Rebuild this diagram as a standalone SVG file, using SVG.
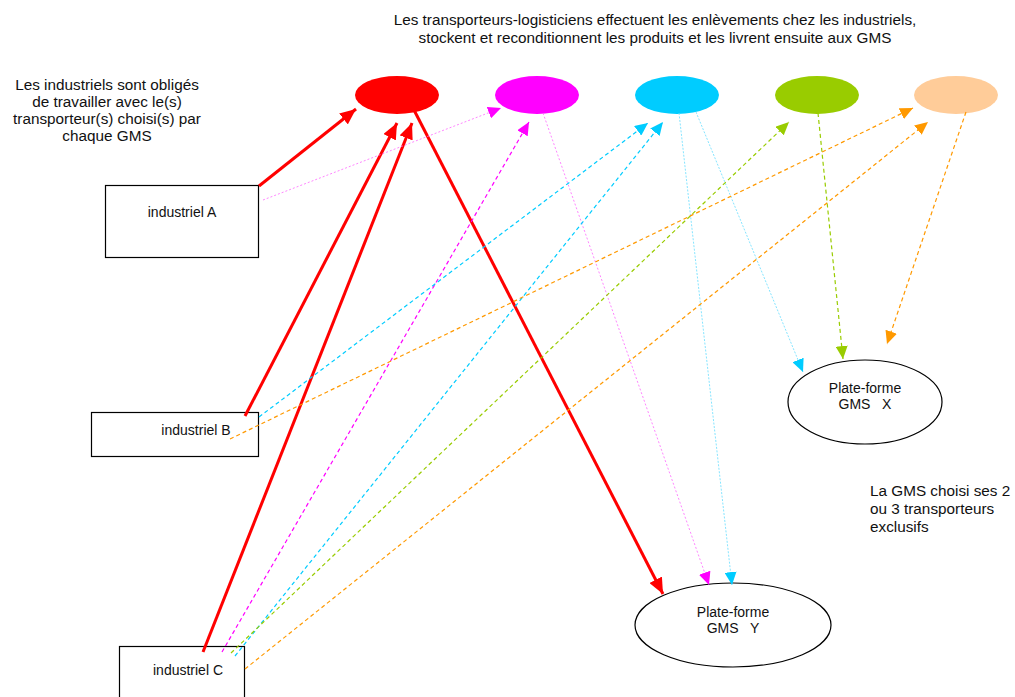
<svg xmlns="http://www.w3.org/2000/svg" width="1015" height="697" viewBox="0 0 1015 697">
  <style>
    text { font-family: "Liberation Sans", Arial, sans-serif; fill: #111; }
    .cap { font-size: 15.3px; }
    .lbl { font-size: 14px; }
    .box { fill: #fff; stroke: #000; stroke-width: 1.2; }
    .plat { fill: #fff; stroke: #000; stroke-width: 1.2; }
    .red { stroke: #ff0000; stroke-width: 3; fill: none; }
    .mag { stroke: #ff00ff; stroke-width: 1.2; fill: none; stroke-dasharray: 4 3; }
    .magdot { stroke: #ff66ff; stroke-width: 0.8; fill: none; stroke-dasharray: 2 2; }
    .cya { stroke: #00ccff; stroke-width: 1.2; fill: none; stroke-dasharray: 4 3; }
    .cyadot { stroke: #66ddff; stroke-width: 0.8; fill: none; stroke-dasharray: 2 1.5; }
    .grn { stroke: #99cc00; stroke-width: 1.2; fill: none; stroke-dasharray: 4 3; }
    .org { stroke: #ff9900; stroke-width: 1.2; fill: none; stroke-dasharray: 4 3; }
  </style>
  <defs>
    <marker id="ahRed" markerUnits="userSpaceOnUse" markerWidth="16" markerHeight="14" refX="16" refY="7" orient="auto">
      <path d="M0,0 L16,7 L0,14 z" fill="#ff0000"/>
    </marker>
    <marker id="ahMag" markerUnits="userSpaceOnUse" markerWidth="13" markerHeight="12" refX="13" refY="6" orient="auto">
      <path d="M0,0 L13,6 L0,12 z" fill="#ff00ff"/>
    </marker>
    <marker id="ahCya" markerUnits="userSpaceOnUse" markerWidth="13" markerHeight="12" refX="13" refY="6" orient="auto">
      <path d="M0,0 L13,6 L0,12 z" fill="#00ccff"/>
    </marker>
    <marker id="ahGrn" markerUnits="userSpaceOnUse" markerWidth="13" markerHeight="12" refX="13" refY="6" orient="auto">
      <path d="M0,0 L13,6 L0,12 z" fill="#99cc00"/>
    </marker>
    <marker id="ahOrg" markerUnits="userSpaceOnUse" markerWidth="13" markerHeight="12" refX="13" refY="6" orient="auto">
      <path d="M0,0 L13,6 L0,12 z" fill="#ff9900"/>
    </marker>
  </defs>

  <rect width="1015" height="697" fill="#fff"/>

  <!-- captions -->
  <g id="caption-top">
    <text class="cap" x="655" y="25" text-anchor="middle">Les transporteurs-logisticiens effectuent les enlèvements chez les industriels,</text>
    <text class="cap" x="655" y="43" text-anchor="middle">stockent et reconditionnent les produits et les livrent ensuite aux GMS</text>
  </g>
  <g id="caption-left">
    <text class="cap" x="107" y="90" text-anchor="middle">Les industriels sont obligés</text>
    <text class="cap" x="107" y="107" text-anchor="middle">de travailler avec le(s)</text>
    <text class="cap" x="107" y="124" text-anchor="middle">transporteur(s) choisi(s) par</text>
    <text class="cap" x="107" y="141" text-anchor="middle">chaque GMS</text>
  </g>
  <g id="caption-right">
    <text class="cap" x="870" y="496">La GMS choisi ses 2</text>
    <text class="cap" x="870" y="514">ou 3 transporteurs</text>
    <text class="cap" x="870" y="532">exclusifs</text>
  </g>

  <!-- transporters -->
  <g id="transporteur-rouge"><ellipse cx="397" cy="95" rx="42" ry="19" fill="#ff0000"/></g>
  <g id="transporteur-magenta"><ellipse cx="537" cy="95" rx="42" ry="19" fill="#ff00ff"/></g>
  <g id="transporteur-cyan"><ellipse cx="677" cy="95" rx="42" ry="19" fill="#00ccff"/></g>
  <g id="transporteur-vert"><ellipse cx="817" cy="95" rx="42" ry="19" fill="#99cc00"/></g>
  <g id="transporteur-peche"><ellipse cx="956" cy="95" rx="42" ry="19" fill="#ffcc99"/></g>

  <!-- industrials -->
  <g id="industriel-a">
    <rect class="box" x="105.5" y="185.5" width="153" height="72"/>
    <text class="lbl" x="182" y="217" text-anchor="middle">industriel A</text>
  </g>
  <g id="industriel-b">
    <rect class="box" x="91.5" y="412.5" width="167" height="44"/>
    <text class="lbl" x="196" y="435" text-anchor="middle">industriel B</text>
  </g>
  <g id="industriel-c">
    <rect class="box" x="119.5" y="646.5" width="125" height="60"/>
    <text class="lbl" x="188" y="675" text-anchor="middle">industriel C</text>
  </g>

  <!-- platforms -->
  <g id="plateforme-x">
    <ellipse class="plat" cx="865" cy="402" rx="77" ry="42"/>
    <text class="lbl" x="865" y="393" text-anchor="middle">Plate-forme</text>
    <text class="lbl" x="865" y="409" text-anchor="middle" xml:space="preserve">GMS   X</text>
  </g>
  <g id="plateforme-y">
    <ellipse class="plat" cx="733" cy="625" rx="98" ry="42"/>
    <text class="lbl" x="733" y="617" text-anchor="middle">Plate-forme</text>
    <text class="lbl" x="733" y="633" text-anchor="middle" xml:space="preserve">GMS   Y</text>
  </g>

  <!-- connectors -->
  <g id="connectors">
    <!-- red transporter -->
    <line class="red" x1="259" y1="186" x2="356" y2="109" marker-end="url(#ahRed)"/>
    <line class="red" x1="245" y1="416" x2="397" y2="123" marker-end="url(#ahRed)"/>
    <line class="red" x1="203" y1="652" x2="412" y2="123" marker-end="url(#ahRed)"/>
    <line class="red" x1="414" y1="110" x2="663" y2="594" marker-end="url(#ahRed)"/>
    <!-- magenta transporter -->
    <line class="magdot" x1="263" y1="200" x2="501" y2="108" marker-end="url(#ahMag)"/>
    <line class="mag" x1="222" y1="652" x2="529" y2="122" marker-end="url(#ahMag)"/>
    <line class="magdot" x1="543" y1="113" x2="709" y2="585" marker-end="url(#ahMag)"/>
    <!-- cyan transporter -->
    <line class="cya" x1="259" y1="417" x2="648" y2="123" marker-end="url(#ahCya)"/>
    <line class="cya" x1="235" y1="656" x2="663" y2="122" marker-end="url(#ahCya)"/>
    <line class="cyadot" x1="679" y1="113" x2="732" y2="585" marker-end="url(#ahCya)"/>
    <line class="cyadot" x1="696" y1="112" x2="803" y2="372" marker-end="url(#ahCya)"/>
    <!-- green transporter -->
    <line class="grn" x1="231" y1="653" x2="789" y2="122" marker-end="url(#ahGrn)"/>
    <line class="grn" x1="818" y1="113" x2="843" y2="359" marker-end="url(#ahGrn)"/>
    <!-- peach transporter -->
    <line class="org" x1="230" y1="439" x2="913" y2="108" marker-end="url(#ahOrg)"/>
    <line class="org" x1="245" y1="669" x2="928" y2="122" marker-end="url(#ahOrg)"/>
    <line class="org" x1="966" y1="112" x2="887" y2="344" marker-end="url(#ahOrg)"/>
  </g>
</svg>
